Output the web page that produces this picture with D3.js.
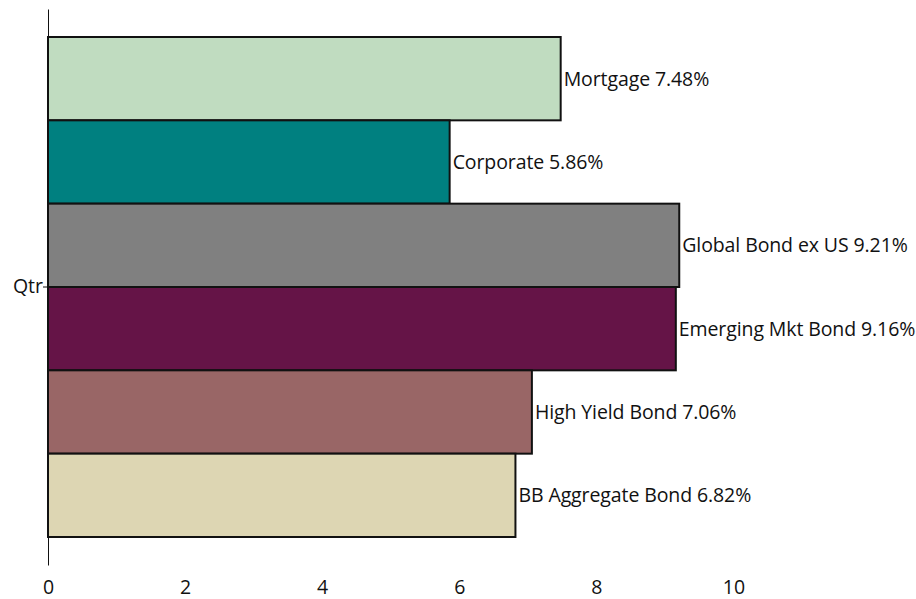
<!DOCTYPE html>
<html><head><meta charset="utf-8">
<script src="https://cdn.jsdelivr.net/npm/d3@7"></script>
<style>body{margin:0;background:#fff}svg{display:block}text{font-family:"Open Sans",sans-serif;fill:#111}</style>
</head><body><svg id="c" width="916" height="599"></svg>
<script>
const categories = ["Mortgage","Corporate","Global Bond ex US","Emerging Mkt Bond","High Yield Bond","BB Aggregate Bond"];
const values = [7.48,5.86,9.21,9.16,7.06,6.82];
const colors = ["#c0dcc0","#008080","#808080","#651447","#996666","#ddd6b3"];
const xTicks = [0,2,4,6,8,10];
const groupLabel = ["Qtr"];

const svg = d3.select("#c");
const x = d3.scaleLinear().domain([0,10]).range([48,733.4]);
const yOuter = d3.scaleBand().domain(groupLabel).range([9,565]);
const y = d3.scaleBand().domain(categories).range([37,537]).padding(0);

svg.selectAll("rect.bar").data(categories).join("rect")
  .attr("class","bar")
  .attr("x",x(0)).attr("y",d=>y(d))
  .attr("width",(d,i)=>x(values[i])-x(0)).attr("height",y.bandwidth())
  .attr("fill",(d,i)=>colors[i]).attr("stroke","#111").attr("stroke-width",2);

svg.selectAll("text.lab").data(categories).join("text")
  .attr("class","lab")
  .attr("x",(d,i)=>x(values[i])+3).attr("y",d=>y(d)+y.bandwidth()/2)
  .attr("dy","0.36em").attr("font-size",19.5).attr("letter-spacing","-0.1")
  .text((d,i)=>d+" "+values[i].toFixed(2)+"%");

const yAxis = d3.axisLeft(yOuter).tickSize(5).tickSizeOuter(0);
const gy = svg.append("g").attr("transform","translate(48,0)").call(yAxis);
gy.select(".domain").attr("stroke","#111");
gy.selectAll(".tick line").attr("stroke","#111");
gy.selectAll(".tick text").attr("font-size",19.5).attr("font-family","Open Sans").attr("fill","#111").attr("x",-5);

const xAxis = d3.axisBottom(x).tickValues(xTicks).tickSize(0).tickPadding(0);
const gx = svg.append("g").attr("transform","translate(0,580)").call(xAxis);
gx.select(".domain").remove();
gx.selectAll(".tick text").attr("font-size",19.5).attr("font-family","Open Sans").attr("fill","#111").attr("dy","0.71em");
</script></body></html>
